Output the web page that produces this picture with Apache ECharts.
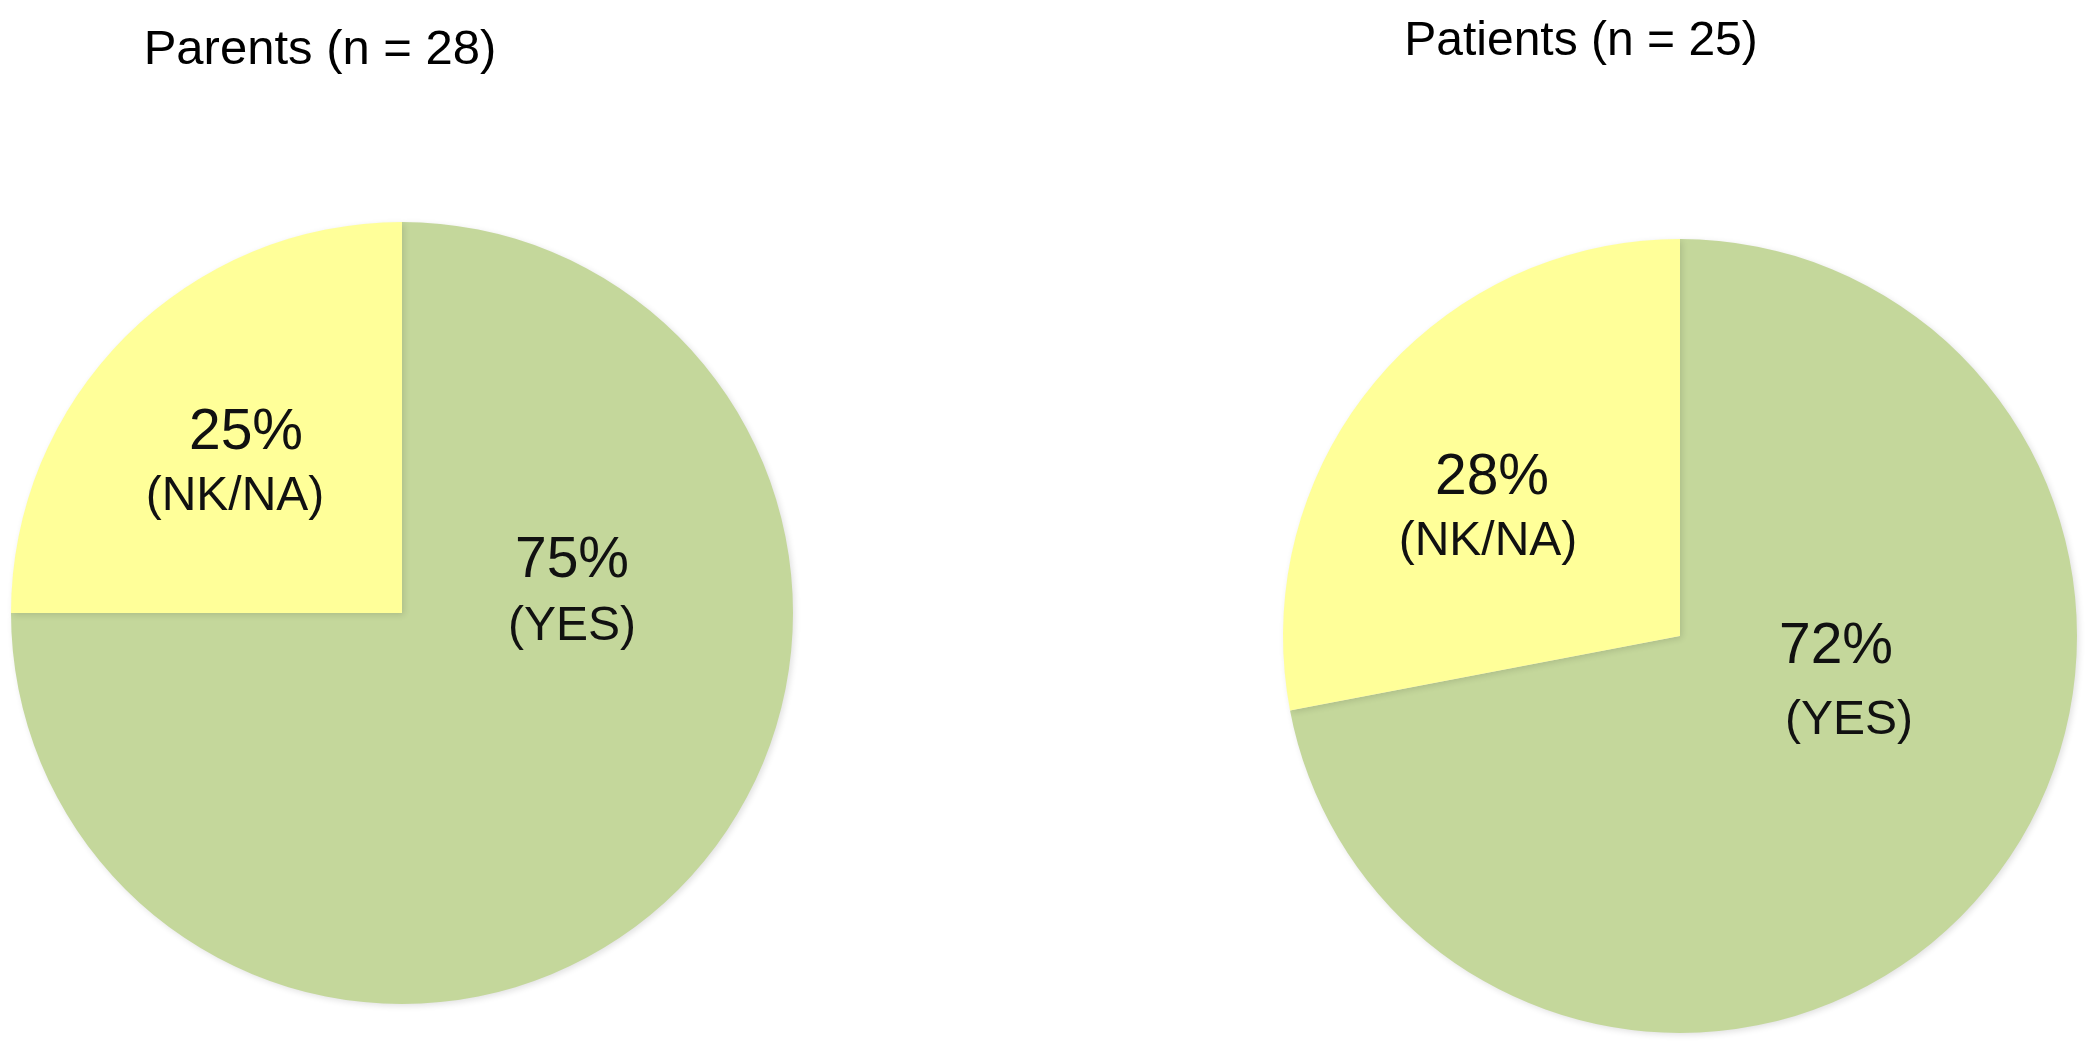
<!DOCTYPE html>
<html>
<head>
<meta charset="utf-8">
<script src="https://cdn.jsdelivr.net/npm/echarts@6/dist/echarts.min.js"></script>
<style>
html,body{margin:0;padding:0;background:#fff;}
#c{width:2091px;height:1044px;}
</style>
</head>
<body>
<div id="c"></div>
<script>
// ---- data ----
const titles = ['Parents (n = 28)', 'Patients (n = 25)'];
const categories = ['YES', 'NK/NA'];
const parentsValues = [75, 25];
const patientsValues = [72, 28];
const sliceColors = ['#C4D79B', '#FFFF99'];

// ---- layout (not data) ----
const pieCenters = [[402, 613], [1680, 636]];
const pieRadii = [391, 397];
const labelPos = [
  [[572, 594], [235, 465]],
  [[1836, 684], [1488, 510]]
];
const labelGap = [[65, 63], [73, 64]];
const lineShift = [[[0, 0], [22, 0]], [[0, 26], [8, 0]]];

const FONT = '"Liberation Sans", Arial, Helvetica, sans-serif';

function buildData(values, s) {
  return values.map((v, i) => ({
    value: v,
    name: categories[i],
    itemStyle: { color: sliceColors[i] },
    label: {
      rich: {
        p: { fontSize: 57, fontFamily: FONT, color: '#111', lineHeight: labelGap[s][i],
             padding: [0, 0, 0, lineShift[s][i][0]] },
        c: { fontSize: 48, fontFamily: FONT, color: '#111', lineHeight: labelGap[s][i],
             padding: [0, 0, 0, lineShift[s][i][1]] }
      }
    }
  }));
}

function makeSeries(values, s) {
  return {
    type: 'pie',
    center: pieCenters[s],
    radius: pieRadii[s],
    startAngle: 90,
    clockwise: true,
    silent: true,
    animation: false,
    data: buildData(values, s),
    label: {
      show: true,
      position: 'inside',
      formatter: p => '{p|' + p.value + '%}\n{c|(' + p.name + ')}'
    },
    labelLine: { show: false },
    labelLayout: params => ({
      x: labelPos[s][params.dataIndex][0],
      y: labelPos[s][params.dataIndex][1],
      align: 'center',
      verticalAlign: 'middle'
    }),
    itemStyle: {
      borderWidth: 0,
      shadowBlur: 6,
      shadowColor: 'rgba(0,0,0,0.12)',
      shadowOffsetX: 2,
      shadowOffsetY: 2
    }
  };
}

const chart = echarts.init(document.getElementById('c'), null, { renderer: 'canvas' });
chart.setOption({
  backgroundColor: '#ffffff',
  animation: false,
  graphic: [
    {
      type: 'text', x: 320, y: 50,
      style: { text: titles[0], x: 0, y: 0, fontSize: 49, fontFamily: FONT, fill: '#000',
               textAlign: 'center', textVerticalAlign: 'middle', align: 'center', verticalAlign: 'middle' }
    },
    {
      type: 'text', x: 1581, y: 42,
      style: { text: titles[1], x: 0, y: 0, fontSize: 48, fontFamily: FONT, fill: '#000',
               textAlign: 'center', textVerticalAlign: 'middle', align: 'center', verticalAlign: 'middle' }
    }
  ],
  series: [makeSeries(parentsValues, 0), makeSeries(patientsValues, 1)]
});
</script>
</body>
</html>
